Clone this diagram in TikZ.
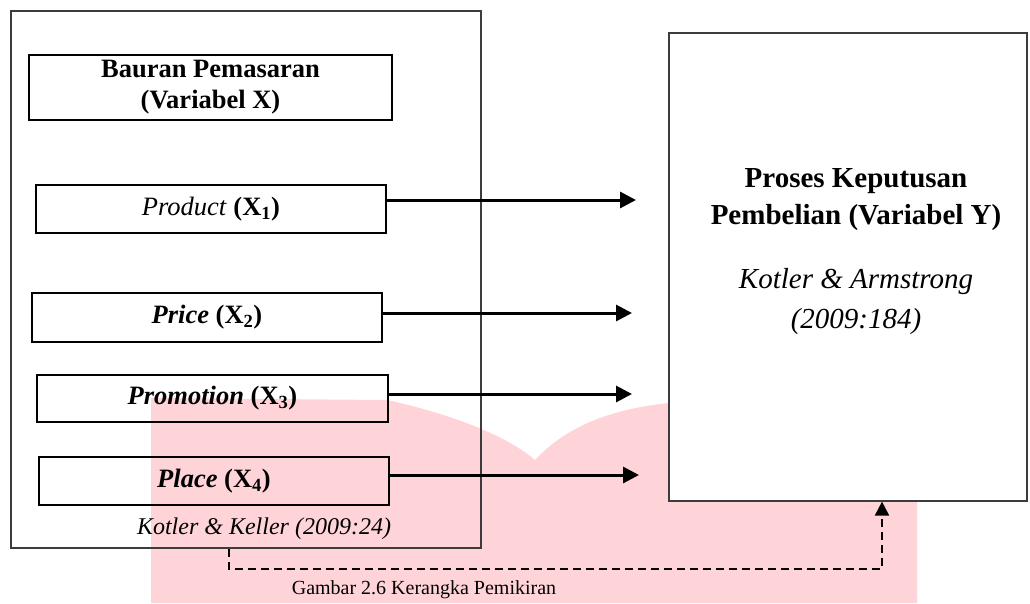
\documentclass[tikz,border=0pt]{standalone}
\usepackage{fontspec}
\setmainfont{Liberation Serif}
\usetikzlibrary{arrows.meta}
\definecolor{wm}{RGB}{255,212,216}
\definecolor{frame}{RGB}{60,60,60}
\begin{document}
\begin{tikzpicture}[x=1pt,y=-1pt,
  smallbox/.style={draw=black,line width=2pt,inner sep=0pt,font=\fontsize{26.5}{31}\selectfont\bfseries},
  arr/.style={line width=3pt,-{Triangle[length=16pt,width=16pt]}},
  dasharr/.style={line width=2pt,dash pattern=on 8pt off 5pt,-{Triangle[length=14pt,width=14pt]}}]
\useasboundingbox (0,0) rectangle (1030,603);
% watermark
\fill[wm] (151,603) -- (151,398) -- (387,400) .. controls (433,410) and (500,430) .. (535,460)
  .. controls (560,433) and (600,410) .. (669,403) -- (917,400) -- (917,603) -- cycle;
% outer box
\node[draw=frame,line width=1.6pt,minimum width=470pt,minimum height=537pt,inner sep=0pt] (outer) at (246,279.5) {};
% inner boxes
\node[smallbox,minimum width=363pt,minimum height=65pt,align=center] (bx) at (210.5,87.5)
  {Bauran Pemasaran\\(Variabel X)};
\node[smallbox,minimum width=350pt,minimum height=48pt] (p1) at (211,209)
  {\textmd{\itshape Product} (X\textsubscript{1})};
\node[smallbox,minimum width=350pt,minimum height=49pt] (p2) at (207,317.5)
  {\itshape Price \upshape(X\textsubscript{2})};
\node[smallbox,minimum width=351pt,minimum height=47pt] (p3) at (212.5,398.5)
  {\itshape Promotion \upshape(X\textsubscript{3})};
\node[smallbox,minimum width=350pt,minimum height=48pt] (p4) at (214,481)
  {\itshape Place \upshape(X\textsubscript{4})};
\node[font=\fontsize{24}{28}\selectfont\itshape,inner sep=0pt] (kk) at (264,529) {Kotler \& Keller (2009:24)};
% right box
\node[draw=frame,fill=white,line width=1.2pt,minimum width=358pt,minimum height=468pt,inner sep=0pt] (Y) at (848,267) {};
\node[align=center,inner sep=0pt,font=\fontsize{29}{37}\selectfont] (ytext) at (856,252)
  {\bfseries Proses Keputusan\\\bfseries Pembelian (Variabel Y)\\[27pt]\itshape Kotler \& Armstrong\\[3pt]\itshape (2009:184)};
% arrows
\coordinate (t1) at (636,200);
\coordinate (t2) at (632,313);
\coordinate (t3) at (632,394);
\coordinate (t4) at (639,475);
\draw[arr] (p1.east |- t1) -- (t1);
\draw[arr] (p2.east |- t2) -- (t2);
\draw[arr] (p3.east |- t3) -- (t3);
\draw[arr] (p4.east |- t4) -- (t4);
% dashed feedback
\coordinate (d1) at (229,569);
\coordinate (d2) at (882,569);
\draw[dasharr] (outer.south -| d1) -- (d1) -- (d2) -- (Y.south -| d2);
% caption
\node[font=\fontsize{20}{24}\selectfont,inner sep=0pt] (cap) at (424,590) {Gambar 2.6 Kerangka Pemikiran};
\end{tikzpicture}
\end{document}
